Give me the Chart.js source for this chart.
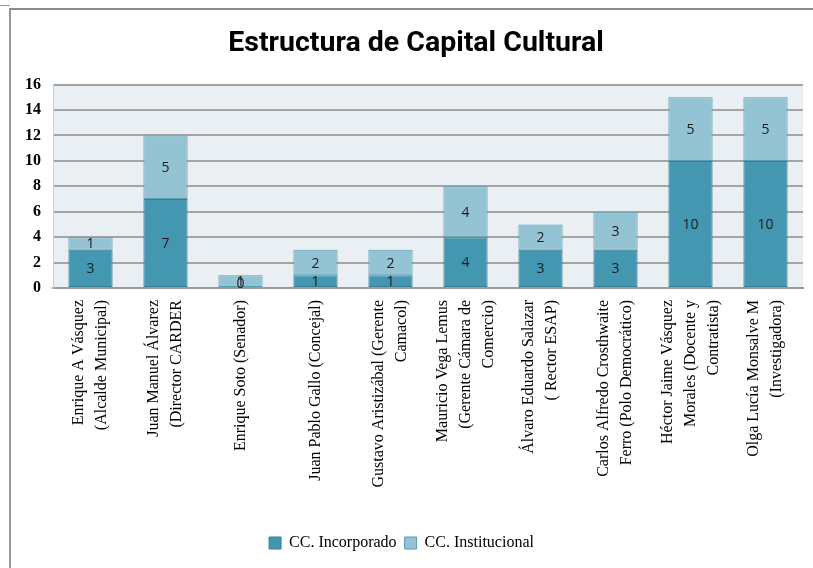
<!DOCTYPE html>
<html>
<head>
<meta charset="utf-8">
<script src="https://cdn.jsdelivr.net/npm/chart.js@4.4.1/dist/chart.umd.min.js"></script>
<style>
  html, body { margin: 0; padding: 0; background: #fff; overflow: hidden; }
  #frame { position: absolute; left: 9px; top: 8px; width: 820px; height: 580px;
           border-left: 2px solid #9a9a9a; border-top: 2px solid #8c8c8c; }
  #stub { position: absolute; left: 0; top: 5px; width: 10px; height: 0; border-top: 1px solid #9a9a9a; }
  #wrap { position: absolute; left: 0; top: 0; width: 813px; height: 568px; }
</style>
</head>
<body>
<div id="stub"></div>
<div id="frame"></div>
<div id="wrap"><canvas id="chart" width="813" height="568"></canvas></div>
<script>
const chartTitle = 'Estructura de Capital Cultural'
const categories = [
  ['Enrique A Vásquez', '(Alcalde Municipal)'],
  ['Juan Manuel Álvarez', '(Director CARDER'],
  'Enrique Soto (Senador)',
  'Juan Pablo Gallo (Concejal)',
  ['Gustavo Aristizábal (Gerente', 'Camacol)'],
  ['Mauricio Vega Lemus', '(Gerente Cámara de', 'Comercio)'],
  ['Álvaro Eduardo Salazar', '( Rector ESAP)'],
  ['Carlos Alfredo Crosthwaite', 'Ferro (Polo Democrático)'],
  ['Héctor Jaime Vásquez', 'Morales (Docente y', 'Contratista)'],
  ['Olga Lucía Monsalve M', '(Investigadora)']
]
const incorporado = [3, 7, 0, 1, 1, 4, 3, 3, 10, 10]
const institucional = [1, 5, 1, 2, 2, 4, 2, 3, 5, 5]
const yTicks = [0, 2, 4, 6, 8, 10, 12, 14, 16]

const plotBackground = {
  id: 'plotBackground',
  beforeDraw(chart) {
    const { ctx, chartArea } = chart
    ctx.save()
    ctx.fillStyle = '#e9eff2'
    ctx.fillRect(chartArea.left, chartArea.top, chartArea.right - chartArea.left, chartArea.bottom - chartArea.top)
    ctx.restore()
  }
}

// values written in the middle of each segment
const segmentLabels = {
  id: 'segmentLabels',
  afterDatasetsDraw(chart) {
    const { ctx } = chart
    ctx.save()
    ctx.font = '14px "Open Sans", sans-serif'
    ctx.fillStyle = '#1c1c1c'
    ctx.textAlign = 'center'
    ctx.textBaseline = 'middle'
    chart.data.datasets.forEach((ds, i) => {
      chart.getDatasetMeta(i).data.forEach((bar, j) => {
        const y = bar.y === bar.base ? bar.base - 5 : (bar.y + bar.base) / 2
        ctx.fillText(String(ds.data[j]), bar.x, y + 1)
      })
    })
    ctx.restore()
  }
}

// rotated category names, each block centred on its bar
const categoryLabels = {
  id: 'categoryLabels',
  afterDraw(chart) {
    const { ctx, chartArea } = chart
    const xScale = chart.scales.x
    const lh = 23
    ctx.save()
    ctx.font = '16px "Liberation Serif", serif'
    ctx.fillStyle = '#000'
    ctx.textAlign = 'right'
    ctx.textBaseline = 'middle'
    categories.forEach((cat, i) => {
      const lines = Array.isArray(cat) ? cat : [cat]
      ctx.save()
      ctx.translate(xScale.getPixelForValue(i), chartArea.bottom + 12)
      ctx.rotate(-Math.PI / 2)
      lines.forEach((line, k) => {
        ctx.fillText(line, 0, (k - (lines.length - 1) / 2) * lh)
      })
      ctx.restore()
    })
    ctx.restore()
  }
}

// title sits a little right of the canvas centre in the original
const titleText = {
  id: 'titleText',
  afterDraw(chart) {
    const { ctx } = chart
    ctx.save()
    ctx.font = 'bold 28.5px Roboto'
    ctx.fillStyle = '#000'
    ctx.textAlign = 'center'
    ctx.textBaseline = 'middle'
    ctx.fillText(chartTitle, 416, 44)
    ctx.restore()
  }
}

const ctx = document.getElementById('chart').getContext('2d')
new Chart(ctx, {
  type: 'bar',
  data: {
    labels: categories,
    datasets: [
      {
        label: 'CC. Incorporado',
        data: incorporado,
        backgroundColor: '#4397b0',
        borderColor: '#3a7f95',
        borderWidth: 1,
        borderSkipped: false
      },
      {
        label: 'CC. Institucional',
        data: institucional,
        backgroundColor: '#94c3d4',
        borderColor: '#5a9db2',
        borderWidth: 1,
        borderSkipped: false
      }
    ]
  },
  options: {
    responsive: false,
    animation: false,
    layout: { padding: { left: 0, right: 10, top: 0, bottom: 7 } },
    datasets: { bar: { categoryPercentage: 1, barPercentage: 0.59 } },
    plugins: {
      title: {
        display: true,
        text: chartTitle,
        color: 'rgba(0,0,0,0)',
        font: { family: 'Roboto', size: 28, weight: 'bold' },
        padding: { top: 27, bottom: 24 }
      },
      legend: {
        position: 'bottom',
        labels: {
          boxWidth: 12,
          boxHeight: 12,
          padding: 8,
          color: '#000',
          font: { family: '"Liberation Serif", serif', size: 16 }
        }
      },
      tooltip: { enabled: false }
    },
    scales: {
      x: {
        stacked: true,
        grid: { display: false },
        border: { color: '#9a9a9a', width: 2 },
        ticks: { display: false },
        afterFit(scale) { scale.height = 239 }
      },
      y: {
        stacked: true,
        min: 0,
        max: 16,
        afterBuildTicks(scale) { scale.ticks = yTicks.map(v => ({ value: v })) },
        grid: { color: '#a4a4a4', lineWidth: 2, drawTicks: false },
        border: { color: '#c8d0d4', width: 1 },
        ticks: {
          padding: 12,
          color: '#000',
          font: { family: '"Liberation Serif", serif', size: 16, weight: 'bold' }
        },
        afterFit(scale) { scale.width = 53 }
      }
    }
  },
  plugins: [plotBackground, segmentLabels, categoryLabels, titleText]
})
</script>
</body>
</html>
